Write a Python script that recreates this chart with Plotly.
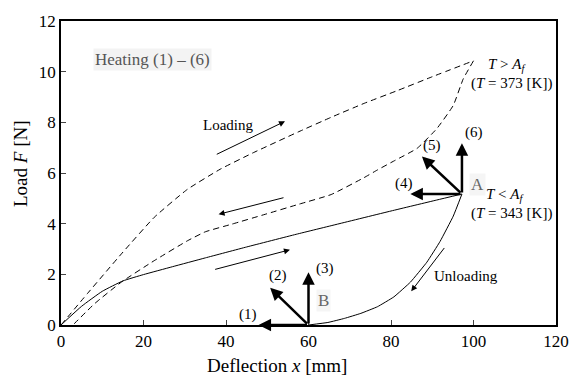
import plotly.graph_objects as go

# ---- data ----
load_low_x = [0, 5, 10, 15, 20, 27, 35, 45, 57, 67, 80, 91, 97.2]
load_low_y = [0, 0.74, 1.33, 1.74, 1.99, 2.30, 2.65, 3.08, 3.58, 3.98, 4.50, 4.93, 5.17]

unload_low_x = [97.2, 95.1, 91.9, 88.7, 84.7, 80.7, 76.7, 72.7, 68.7, 64.7, 60.0]
unload_low_y = [5.17, 4.30, 3.30, 2.48, 1.69, 1.11, 0.72, 0.46, 0.26, 0.10, 0.0]

load_high_x = [0, 6.4, 14.6, 22.6, 30.6, 38.6, 46.6, 57.5, 65.5, 73.5, 81.5, 90, 100]
load_high_y = [0, 1.24, 2.80, 4.25, 5.35, 6.15, 6.80, 7.62, 8.20, 8.75, 9.25, 9.80, 10.43]

unload_high_x = [100, 97.5, 95.1, 91.1, 86.3, 81.0, 76.7, 73.5, 65.5, 57.5, 49.5, 41.4, 35.0, 30.6, 22.6, 14.6, 8.2, 3.2]
unload_high_y = [10.43, 9.71, 8.67, 7.75, 6.97, 6.50, 6.12, 5.82, 5.15, 4.76, 4.37, 3.98, 3.68, 3.32, 2.54, 1.69, 0.85, 0.05]

x_ticks = [0, 20, 40, 60, 80, 100, 120]
y_ticks = [0, 2, 4, 6, 8, 10, 12]

point_A = (97.2, 5.17)
point_B = (60.0, 0.0)
# thick direction arrows: (head x, head y, label, label x, label y)
arrows_A = [(84.7, 5.17, "(4)", 83.1, 5.60),
            (87.5, 6.65, "(5)", 89.9, 7.08),
            (97.2, 7.17, "(6)", 100.1, 7.60)]
arrows_B = [(47.9, 0.0, "(1)", 45.4, 0.43),
            (50.7, 1.47, "(2)", 52.5, 1.95),
            (60.0, 2.08, "(3)", 64.1, 2.25)]
# thin path arrows: (tail x, tail y, head x, head y)
thin_arrows = [(37.4, 6.71, 54.3, 8.04),
               (54.3, 5.04, 38.2, 4.37),
               (37.0, 2.18, 55.5, 2.97),
               (93.2, 3.10, 84.9, 1.33)]

FONT = "Times New Roman, Liberation Serif, DejaVu Serif, serif"

fig = go.Figure()
fig.add_trace(go.Scatter(x=load_low_x, y=load_low_y, mode="lines",
                         line=dict(color="black", width=1, shape="spline", smoothing=0.4)))
fig.add_trace(go.Scatter(x=unload_low_x, y=unload_low_y, mode="lines",
                         line=dict(color="black", width=1, shape="spline", smoothing=0.3)))
fig.add_trace(go.Scatter(x=load_high_x, y=load_high_y, mode="lines",
                         line=dict(color="black", width=1, dash="6px,4px", shape="spline", smoothing=0.4)))
fig.add_trace(go.Scatter(x=unload_high_x, y=unload_high_y, mode="lines",
                         line=dict(color="black", width=1, dash="6px,4px", shape="spline", smoothing=0.4)))

ann = []
def txt(x, y, t, size=15, color="black", bg=None, xanchor="center"):
    d = dict(x=x, y=y, xref="x", yref="y", text=t, showarrow=False,
             font=dict(family=FONT, size=size, color=color), xanchor=xanchor)
    if bg:
        d["bgcolor"] = bg
    ann.append(d)

def arrow(tx, ty, hx, hy, width, size, head):
    ann.append(dict(x=hx, y=hy, ax=tx, ay=ty, xref="x", yref="y", axref="x", ayref="y",
                    text="", showarrow=True, arrowhead=head, arrowsize=size,
                    arrowwidth=width, arrowcolor="black", standoff=0, startstandoff=0))

for hx, hy, lab, lx, ly in arrows_A:
    arrow(point_A[0], point_A[1], hx, hy, 2.5, 1.0, 2)
    txt(lx, ly, lab)
for hx, hy, lab, lx, ly in arrows_B:
    arrow(point_B[0], point_B[1], hx, hy, 2.5, 1.0, 2)
    txt(lx, ly, lab)
for tx, ty, hx, hy in thin_arrows:
    arrow(tx, ty, hx, hy, 1, 1.2, 2)

txt(40.4, 7.90, "Loading")
txt(98.1, 1.95, "Unloading")
txt(22.2, 10.49, "Heating (1) – (6)", size=17, color="#555555", bg="rgba(238,238,238,0.7)")
txt(101.0, 5.54, "A", size=17, color="#666666", bg="rgba(238,238,238,0.6)")
txt(63.7, 0.98, "B", size=17, color="#666666", bg="rgba(238,238,238,0.6)")
txt(108.2, 10.25, "<i>T</i> > <i>A<sub>f</sub></i>")
txt(109.2, 9.55, "(<i>T</i> = 373 [K])")
txt(107.6, 5.12, "<i>T</i> < <i>A<sub>f</sub></i>")
txt(109.2, 4.39, "(<i>T</i> = 343 [K])")

# axis titles (placed as in the reference, slightly off-centre)
ann.append(dict(x=0.437, y=-0.134, xref="paper", yref="paper", showarrow=False,
                text="Deflection <i>x</i> [mm]", xanchor="center", yanchor="middle",
                font=dict(family=FONT, size=19, color="black")))
ann.append(dict(x=-0.082, y=0.531, xref="paper", yref="paper", showarrow=False,
                text="Load <i>F</i> [N]", textangle=-90, xanchor="center", yanchor="middle",
                font=dict(family=FONT, size=19, color="black")))

fig.update_layout(
    width=581, height=378,
    margin=dict(l=61, r=21, t=18, b=53),
    paper_bgcolor="white", plot_bgcolor="white",
    showlegend=False,
    font=dict(family=FONT, size=17, color="black"),
    annotations=ann,
    xaxis=dict(range=[0, 120], tickvals=x_ticks, ticks="inside", ticklen=5,
               showline=True, linecolor="black", linewidth=1.5, mirror=True,
               showgrid=False, zeroline=False, tickfont=dict(family=FONT, size=17)),
    yaxis=dict(range=[0, 12], tickvals=y_ticks, ticks="inside", ticklen=5,
               showline=True, linecolor="black", linewidth=1.5, mirror=True,
               showgrid=False, zeroline=False, tickfont=dict(family=FONT, size=17)),
)

fig.write_html("out.html")
